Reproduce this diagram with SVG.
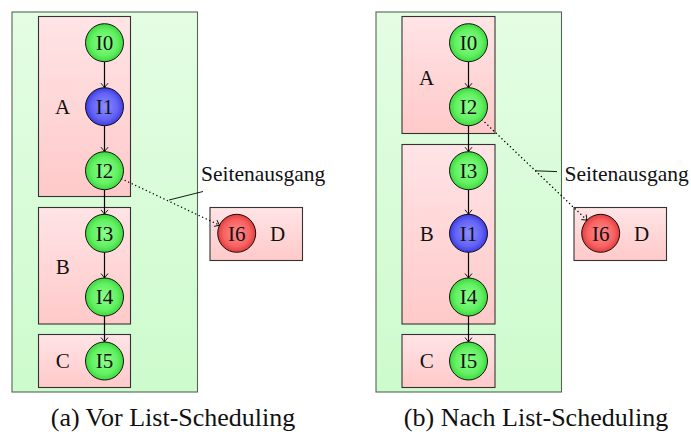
<svg xmlns="http://www.w3.org/2000/svg" width="691" height="434" viewBox="0 0 691 434" font-family="'Liberation Serif', 'Times New Roman', 'DejaVu Serif', serif">
<defs>
<linearGradient id="gPanel" x1="0" y1="0" x2="0" y2="1">
<stop offset="0" stop-color="#e4fde4"/><stop offset="1" stop-color="#cdfbcd"/>
</linearGradient>
<linearGradient id="gBox" x1="0" y1="0" x2="0" y2="1">
<stop offset="0" stop-color="#ffe4e6"/><stop offset="1" stop-color="#ffc9c9"/>
</linearGradient>
<radialGradient id="gGreen" cx="0.5" cy="0.5" r="0.5">
<stop offset="0" stop-color="#8cff8c"/><stop offset="0.7" stop-color="#62f062"/><stop offset="1" stop-color="#3cd83c"/>
</radialGradient>
<radialGradient id="gBlue" cx="0.5" cy="0.5" r="0.5">
<stop offset="0" stop-color="#8c8cff"/><stop offset="0.7" stop-color="#6262f6"/><stop offset="1" stop-color="#3c3ce0"/>
</radialGradient>
<radialGradient id="gRed" cx="0.5" cy="0.5" r="0.5">
<stop offset="0" stop-color="#ff8c8c"/><stop offset="0.7" stop-color="#f86262"/><stop offset="1" stop-color="#e03c3c"/>
</radialGradient>
<marker id="tip" viewBox="-6 -5 7 10" markerWidth="7" markerHeight="10" refX="0" refY="0" orient="auto" markerUnits="userSpaceOnUse">
<path d="M-4.5,-3.5 Q-1.5,-1 0,0 Q-1.5,1 -4.5,3.5" fill="none" stroke="#000" stroke-width="0.9"/>
</marker>
<style>
.panel{fill:url(#gPanel);stroke:#556655;stroke-width:1.1}
.box{fill:url(#gBox);stroke:#333;stroke-width:1.1}
.n{stroke:#000;stroke-width:0.9}
.g{fill:url(#gGreen)}
.b{fill:url(#gBlue)}
.r{fill:url(#gRed)}
text{font-family:"Liberation Serif","Times New Roman","DejaVu Serif",serif;fill:#111}
.t{font-size:21px;text-anchor:middle}
.lbl{font-size:21.5px}
.cap{font-size:26px;text-anchor:middle}
.e{stroke:#000;stroke-width:1.2;fill:none;marker-end:url(#tip)}
.d{stroke:#000;stroke-width:1.4;fill:none;stroke-dasharray:0.1 3.8;stroke-linecap:round;marker-end:url(#tip)}
.pin{stroke:#000;stroke-width:0.9;fill:none}
</style>
</defs>

<!-- left panel (a) -->
<rect class="panel" x="12" y="12" width="185.5" height="380"/>
<g id="a-A"><rect class="box" x="38.5" y="16.5" width="92" height="180"/><text class="t" x="62.7" y="114">A</text></g>
<g id="a-B"><rect class="box" x="38.5" y="207.5" width="92" height="116.5"/><text class="t" x="62.7" y="274">B</text></g>
<g id="a-C"><rect class="box" x="38.5" y="334.5" width="92" height="53"/><text class="t" x="62.7" y="368">C</text></g>
<g id="a-D"><rect class="box" x="210" y="207.5" width="92.5" height="53"/><text class="t" x="277.7" y="240.5">D</text></g>

<g id="a-connectors">
<line class="e" x1="104.5" y1="61.7" x2="104.5" y2="87.7"/>
<line class="e" x1="104.5" y1="125.7" x2="104.5" y2="151.7"/>
<line class="e" x1="104.5" y1="189.7" x2="104.5" y2="214.3"/>
<line class="e" x1="104.5" y1="252.3" x2="104.5" y2="278"/>
<line class="e" x1="104.5" y1="316" x2="104.5" y2="342"/>
<line class="d" x1="121.6" y1="178.8" x2="219.5" y2="225.2"/>
<line class="pin" x1="169" y1="200" x2="203" y2="191.5"/>
<text class="lbl" x="201" y="181">Seitenausgang</text>
</g>

<g id="a-I0"><circle class="n g" cx="104.5" cy="42.7" r="19"/><text class="t" x="104.5" y="50">I0</text></g>
<g id="a-I1"><circle class="n b" cx="104.5" cy="106.7" r="19"/><text class="t" x="104.5" y="114">I1</text></g>
<g id="a-I2"><circle class="n g" cx="104.5" cy="170.7" r="19"/><text class="t" x="104.5" y="178">I2</text></g>
<g id="a-I3"><circle class="n g" cx="104.5" cy="233.3" r="19"/><text class="t" x="104.5" y="240.5">I3</text></g>
<g id="a-I4"><circle class="n g" cx="104.5" cy="297" r="19"/><text class="t" x="104.5" y="304.3">I4</text></g>
<g id="a-I5"><circle class="n g" cx="104.5" cy="361" r="19"/><text class="t" x="104.5" y="368.3">I5</text></g>
<g id="a-I6"><circle class="n r" cx="236.7" cy="233.3" r="19"/><text class="t" x="236.7" y="240.5">I6</text></g>

<!-- right panel (b) -->
<rect class="panel" x="376" y="12" width="185.5" height="380"/>
<g id="b-A"><rect class="box" x="402" y="16.5" width="93" height="117"/><text class="t" x="426.7" y="85">A</text></g>
<g id="b-B"><rect class="box" x="402" y="144.5" width="93" height="179.5"/><text class="t" x="426.7" y="240.5">B</text></g>
<g id="b-C"><rect class="box" x="402" y="334.5" width="93" height="53"/><text class="t" x="426.7" y="368">C</text></g>
<g id="b-D"><rect class="box" x="574" y="207.5" width="92.5" height="53"/><text class="t" x="641.7" y="240.5">D</text></g>

<g id="b-connectors">
<line class="e" x1="468.5" y1="61.7" x2="468.5" y2="87.7"/>
<line class="e" x1="468.5" y1="125.7" x2="468.5" y2="151.7"/>
<line class="e" x1="468.5" y1="189.7" x2="468.5" y2="214.3"/>
<line class="e" x1="468.5" y1="252.3" x2="468.5" y2="278"/>
<line class="e" x1="468.5" y1="316" x2="468.5" y2="342"/>
<line class="d" x1="482.2" y1="119.8" x2="587" y2="220.2"/>
<line class="pin" x1="535" y1="170.8" x2="557" y2="171.6"/>
<text class="lbl" x="564.5" y="181">Seitenausgang</text>
</g>

<g id="b-I0"><circle class="n g" cx="468.5" cy="42.7" r="19"/><text class="t" x="468.5" y="50">I0</text></g>
<g id="b-I2"><circle class="n g" cx="468.5" cy="106.7" r="19"/><text class="t" x="468.5" y="114">I2</text></g>
<g id="b-I3"><circle class="n g" cx="468.5" cy="170.7" r="19"/><text class="t" x="468.5" y="178">I3</text></g>
<g id="b-I1"><circle class="n b" cx="468.5" cy="233.3" r="19"/><text class="t" x="468.5" y="240.5">I1</text></g>
<g id="b-I4"><circle class="n g" cx="468.5" cy="297" r="19"/><text class="t" x="468.5" y="304.3">I4</text></g>
<g id="b-I5"><circle class="n g" cx="468.5" cy="361" r="19"/><text class="t" x="468.5" y="368.3">I5</text></g>
<g id="b-I6"><circle class="n r" cx="600.7" cy="233.3" r="19"/><text class="t" x="600.7" y="240.5">I6</text></g>

<text class="cap" x="173" y="426">(a) Vor List-Scheduling</text>
<text class="cap" x="536" y="426">(b) Nach List-Scheduling</text>
</svg>
